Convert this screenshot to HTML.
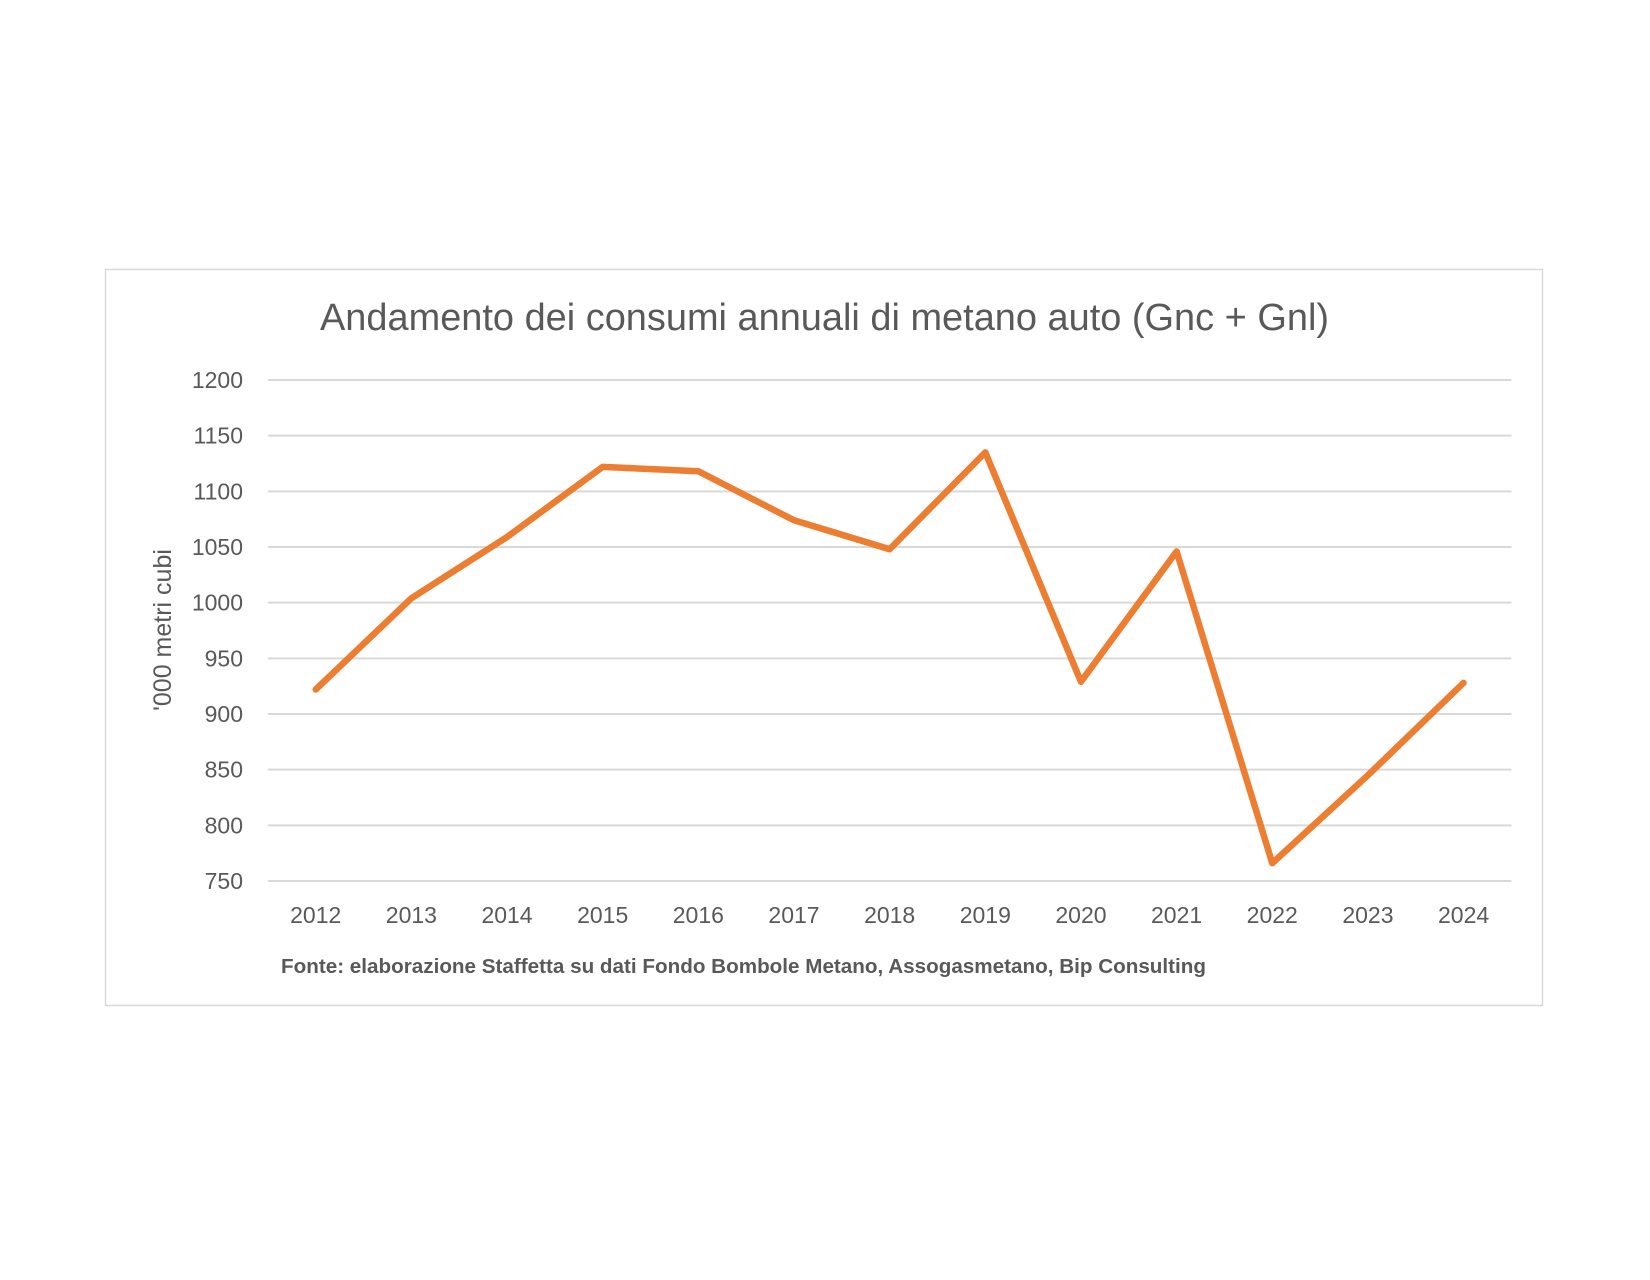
<!DOCTYPE html>
<html><head><meta charset="utf-8"><style>
html,body{margin:0;padding:0;background:#fff;}
body{width:1650px;height:1275px;overflow:hidden;font-family:"Liberation Sans",sans-serif;}
</style></head><body>
<svg width="1650" height="1275" xmlns="http://www.w3.org/2000/svg">
<rect x="105.5" y="269.5" width="1437" height="736" fill="#fff" stroke="#d9d9d9" stroke-width="1.5"/>
<text x="320" y="330" textLength="1009" lengthAdjust="spacingAndGlyphs" font-size="38" fill="#595959">Andamento dei consumi annuali di metano auto (Gnc + Gnl)</text>
<text transform="translate(171,630) rotate(-90)" text-anchor="middle" font-size="25" fill="#595959">'000 metri cubi</text>
<g id="grid"></g><g id="yt"></g><g id="xt"></g><g id="ser"></g>
<text x="281" y="973" textLength="925" lengthAdjust="spacingAndGlyphs" font-size="20" font-weight="bold" fill="#595959">Fonte: elaborazione Staffetta su dati Fondo Bombole Metano, Assogasmetano, Bip Consulting</text>
</svg>
<script>
const categories=["2012","2013","2014","2015","2016","2017","2018","2019","2020","2021","2022","2023","2024"];
const values=[922,1004,1059,1122,1118,1074,1048,1135,929,1046,766,845,928];
const yTicks=[750,800,850,900,950,1000,1050,1100,1150,1200];
const NS="http://www.w3.org/2000/svg";
const L=267.9,R=1511.4,T=380,B=881,yMin=750,yMax=1200;
const bw=(R-L)/categories.length;
const x=i=>L+bw*(i+0.5);
const y=v=>B-(v-yMin)/(yMax-yMin)*(B-T);
function mk(tag,attrs,parent,txt){const e=document.createElementNS(NS,tag);for(const k in attrs)e.setAttribute(k,attrs[k]);if(txt!==undefined)e.textContent=txt;document.getElementById(parent).appendChild(e);return e;}
yTicks.forEach(t=>{
 const g=mk('line',{x1:L,x2:R,y1:y(t),y2:y(t),stroke:'#d9d9d9','stroke-width':2},'grid');
 
 
 const l=mk('text',{x:243,y:y(t)+8,'text-anchor':'end','font-size':23,fill:'#595959'},'yt',String(t));
 
 
});
categories.forEach((c,i)=>{
 const l=mk('text',{x:x(i),y:923,'text-anchor':'middle','font-size':23,fill:'#595959'},'xt',c);
 
 
});
const p=mk('polyline',{points:values.map((v,i)=>x(i)+','+y(v)).join(' '),fill:'none',stroke:'#ed7d31','stroke-width':6.5,'stroke-linejoin':'round','stroke-linecap':'round'},'ser');


</script>
</body></html>
